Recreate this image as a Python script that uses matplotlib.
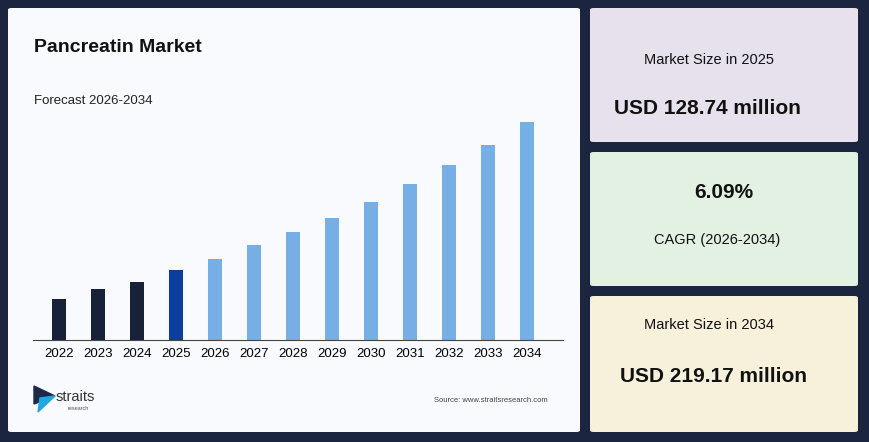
import matplotlib
matplotlib.use("Agg")
import matplotlib.pyplot as plt
from matplotlib.patches import FancyBboxPatch, Polygon

plt.rcParams['font.family'] = ['Liberation Sans', 'DejaVu Sans']

years = ["2022","2023","2024","2025","2026","2027","2028","2029","2030","2031","2032","2033","2034"]
values = [41, 51, 58, 70, 81, 95, 108, 122, 138, 156, 175, 195, 218]
colors = ["#18213a"]*3 + ["#0a3d9c"] + ["#76aee6"]*9

W, H = 870, 442
fig = plt.figure(figsize=(W/100, H/100), dpi=100)
fig.patch.set_facecolor("#1c2540")

def fx(x): return x / W
def fy(y): return 1 - y / H

def box(x0, y0, x1, y1, color):
    p = FancyBboxPatch((fx(x0), fy(y1)), fx(x1-x0), (y1-y0)/H,
                       boxstyle="round,pad=0,rounding_size=0.004",
                       transform=fig.transFigure, facecolor=color, edgecolor="none", zorder=-10)
    fig.patches.append(p)

box(8, 8, 580, 432, "#f9fafd")
box(590, 8, 858, 142, "#e6e1ec")
box(590, 152, 858, 286, "#e3f1e3")
box(590, 296, 858, 432, "#f7f1dc")

fig.text(fx(34), fy(48), "Pancreatin Market", fontsize=14, fontweight="bold", va="center", color="#111")
fig.text(fx(34), fy(101), "Forecast 2026-2034", fontsize=9.5, va="center", color="#222")

ax = fig.add_axes([fx(33), fy(340), fx(530), (340-110)/H])
ax.set_zorder(5)
ax.set_facecolor("none")
ax.bar(range(len(years)), values, width=0.36, color=colors)
ax.set_xlim(-0.667, -0.667 + 530/39)
ax.set_ylim(0, 230)
ax.set_xticks(range(len(years)))
ax.set_xticklabels(years, fontsize=9.5)
ax.tick_params(axis="x", length=0, pad=6)
ax.set_yticks([])
for s in ["top", "right", "left"]:
    ax.spines[s].set_visible(False)
ax.spines["bottom"].set_color("#444")

# logo
fig.patches.append(Polygon([[fx(34), fy(386)], [fx(55), fy(396)], [fx(34), fy(404)]],
                           closed=True, transform=fig.transFigure, color="#1c2a4a"))
fig.patches.append(Polygon([[fx(40), fy(398)], [fx(55), fy(396)], [fx(38), fy(412)]],
                           closed=True, transform=fig.transFigure, color="#22a8e0"))
fig.text(fx(56), fy(397), "straits", fontsize=10.5, color="#333", va="center")
fig.text(fx(68), fy(408), "research", fontsize=4, color="#555", va="center")
fig.text(fx(548), fy(401), "Source: www.straitsresearch.com", fontsize=5.5, color="#444",
         va="center", ha="right")

fig.text(fx(709), fy(60), "Market Size in 2025", fontsize=10.5, ha="center", va="center", color="#111")
fig.text(fx(707), fy(109), "USD 128.74 million", fontsize=15, fontweight="bold", ha="center", va="center", color="#111")
fig.text(fx(724), fy(193), "6.09%", fontsize=15, fontweight="bold", ha="center", va="center", color="#111")
fig.text(fx(717), fy(240), "CAGR (2026-2034)", fontsize=10.5, ha="center", va="center", color="#111")
fig.text(fx(709), fy(325), "Market Size in 2034", fontsize=10.5, ha="center", va="center", color="#111")
fig.text(fx(714), fy(376), "USD 219.17 million", fontsize=15, fontweight="bold", ha="center", va="center", color="#111")

fig.savefig("out.png", dpi=100, facecolor=fig.get_facecolor())
